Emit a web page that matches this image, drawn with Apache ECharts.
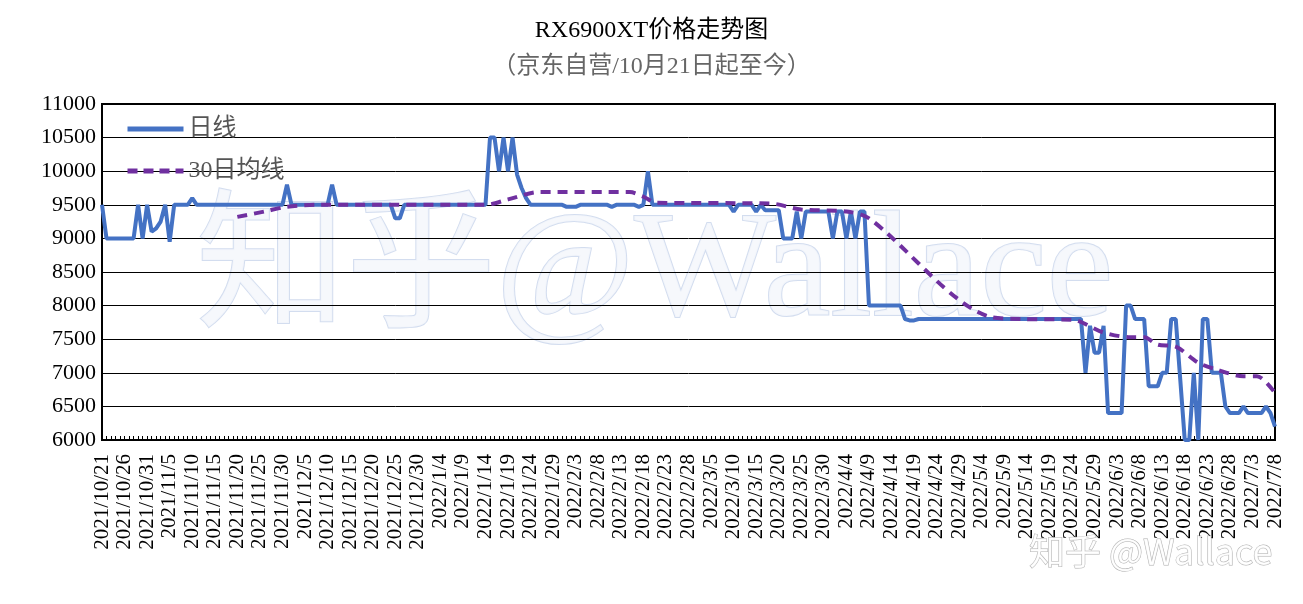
<!DOCTYPE html>
<html lang="zh">
<head>
<meta charset="UTF-8">
<title>RX6900XT价格走势图</title>
<style>
  html, body { margin: 0; background: #fff; }
  #chart { width: 1303px; height: 604px; }
</style>
</head>
<body>
<div id="chart"></div>
<script src="https://cdn.jsdelivr.net/npm/echarts@6/dist/echarts.min.js"></script>
<script>
// 日期：2021/10/21 ~ 2022/7/8，每天一个
const startDate = new Date(2021, 9, 21);
const dayCount = 261;
const dates = [];
for (let i = 0; i < dayCount; i++) {
  const d = new Date(startDate.getFullYear(), startDate.getMonth(), startDate.getDate() + i);
  dates.push(d.getFullYear() + '/' + (d.getMonth() + 1) + '/' + d.getDate());
}

// 日线价格
const dailyPrice = [
  9500,9000,9000,9000,9000,9000,9000,9000,9500,9000,
  9500,9100,9150,9250,9500,8950,9500,9500,9500,9500,
  9600,9500,9500,9500,9500,9500,9500,9500,9500,9500,
  9500,9500,9500,9500,9500,9500,9500,9500,9500,9500,
  9500,9800,9500,9500,9500,9500,9500,9500,9500,9500,
  9500,9800,9500,9500,9500,9500,9500,9500,9500,9500,
  9500,9500,9500,9500,9500,9300,9300,9500,9500,9500,
  9500,9500,9500,9500,9500,9500,9500,9500,9500,9500,
  9500,9500,9500,9500,9500,9500,10500,10500,10000,10500,
  10000,10500,9950,9750,9600,9500,9500,9500,9500,9500,
  9500,9500,9500,9470,9470,9470,9500,9500,9500,9500,
  9500,9500,9500,9470,9500,9500,9500,9500,9500,9470,
  9500,10000,9500,9500,9500,9500,9500,9500,9500,9500,
  9500,9500,9500,9500,9500,9500,9500,9500,9500,9500,
  9400,9500,9500,9500,9500,9400,9500,9420,9420,9420,
  9420,9000,9000,9000,9400,9000,9400,9400,9400,9400,
  9400,9400,9000,9400,9400,9000,9400,9000,9400,9400,
  8000,8000,8000,8000,8000,8000,8000,8000,7800,7780,
  7780,7800,7800,7800,7800,7800,7800,7800,7800,7800,
  7800,7800,7800,7800,7800,7800,7800,7800,7800,7800,
  7800,7800,7800,7800,7800,7800,7800,7800,7800,7800,
  7800,7800,7800,7800,7800,7800,7800,7800,7000,7700,
  7300,7300,7700,6400,6400,6400,6400,8000,8000,7800,
  7800,7800,6800,6800,6800,7000,7000,7800,7800,6900,
  6000,6000,7000,6000,7800,7800,7000,7000,7000,6500,
  6400,6400,6400,6500,6400,6400,6400,6400,6500,6400,
  6200
];

// 30日均线（[日序号, 价格]，从图上读取）
const ma30 = [
  [30,9320],[36,9400],[41,9470],[48,9500],[85,9500],[90,9580],[97,9690],
  [117,9690],[120,9620],[123,9530],[148,9520],[155,9430],[165,9400],[170,9300],
  [197,7830],[204,7800],[215,7790],[222,7600],[228,7530],[231,7530],[234,7420],
  [238,7390],[243,7150],[247,7050],[253,6950],[256,6950],[260,6700]
];

const yTicks = { min: 6000, max: 11000, step: 500 };

const chart = echarts.init(document.getElementById('chart'));
const serif = '"Liberation Serif", "Times New Roman", "Noto Sans CJK SC", serif';

chart.setOption({
  animation: false,
  backgroundColor: '#fff',
  title: {
    text: 'RX6900XT价格走势图',
    subtext: '（京东自营/10月21日起至今）',
    left: 'center',
    top: 14,
    itemGap: 12,
    textStyle: { fontFamily: serif, fontSize: 24, fontWeight: 'normal', color: '#000' },
    subtextStyle: { fontFamily: serif, fontSize: 24, color: '#666' }
  },
  legend: {
    orient: 'vertical',
    left: 120,
    top: 112,
    itemGap: 18,
    itemWidth: 56,
    itemHeight: 6,
    itemStyle: { opacity: 0 },
    textStyle: { fontFamily: serif, fontSize: 24, color: '#555' },
    data: [
      { name: '日线', lineStyle: { width: 5 } },
      { name: '30日均线', lineStyle: { width: 5, type: [10, 6] } }
    ]
  },
  graphic: [
    {
      type: 'text', left: 195, top: 200, z: 0, silent: true,
      style: { text: '知乎@Wallace', font: '150px ' + serif, fill: 'rgba(245,247,252,0.9)', stroke: 'rgba(200,213,235,0.8)', lineWidth: 2 }
    },
    {
      type: 'text', right: 30, bottom: 34, z: 100, silent: true,
      style: { text: '知乎 @Wallace', font: '36px "Noto Sans CJK SC", sans-serif', fill: 'rgba(255,255,255,0.85)', stroke: 'rgba(140,140,140,0.7)', lineWidth: 1 }
    }
  ],
  grid: {
    left: 102, right: 28, top: 104, bottom: 164,
    show: true, borderColor: '#000', borderWidth: 2
  },
  xAxis: {
    type: 'category',
    data: dates,
    boundaryGap: false,
    axisLine: { lineStyle: { color: '#000', width: 2 } },
    axisTick: { interval: 0, length: 4, inside: true, lineStyle: { color: '#000' } },
    axisLabel: {
      interval: 4, rotate: 90, fontFamily: serif, fontSize: 21, color: '#000', margin: 14
    }
  },
  yAxis: {
    type: 'value',
    min: yTicks.min, max: yTicks.max, interval: yTicks.step,
    axisLine: { show: true, lineStyle: { color: '#000', width: 2 } },
    axisLabel: { fontFamily: serif, fontSize: 22, color: '#000', margin: 6, formatter: v => String(v) },
    splitLine: { lineStyle: { color: '#000', width: 1 } }
  },
  series: [
    {
      name: '日线', type: 'line', data: dailyPrice, symbol: 'none',
      lineStyle: { color: '#4472C4', width: 4 }, itemStyle: { color: '#4472C4' }, z: 3
    },
    {
      name: '30日均线', type: 'line', data: ma30, symbol: 'none', smooth: 0.3,
      lineStyle: { color: '#7030A0', width: 4, type: [10, 7] }, itemStyle: { color: '#7030A0' }, z: 4
    }
  ]
});
</script>
</body>
</html>
